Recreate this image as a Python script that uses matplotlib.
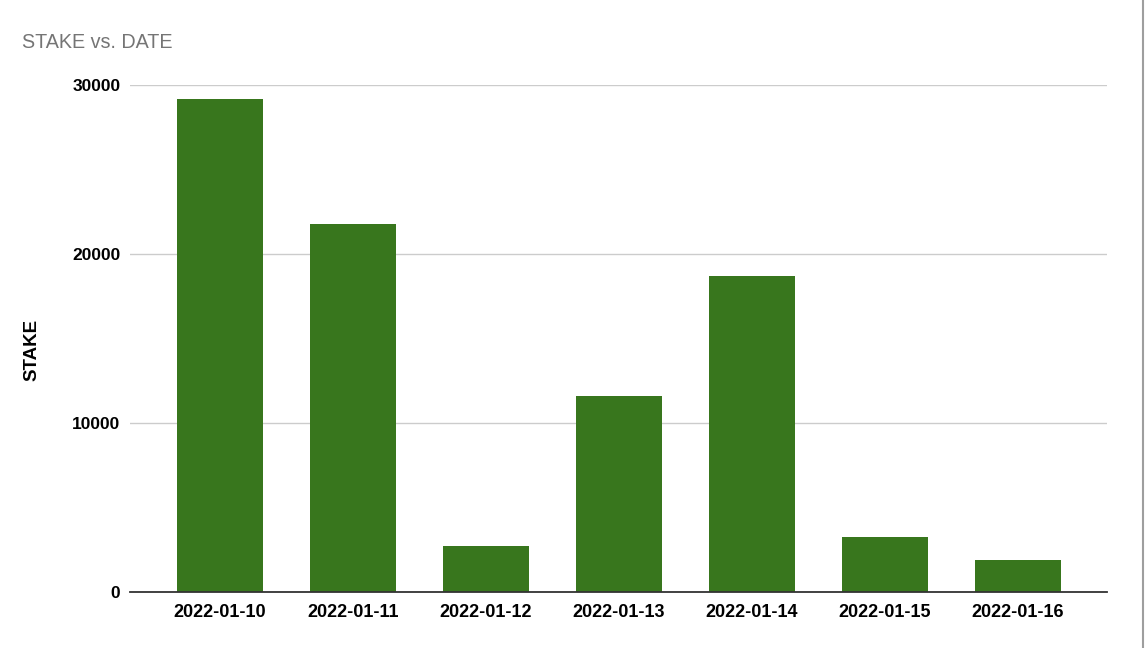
import matplotlib
matplotlib.use('Agg')
import matplotlib.pyplot as plt
from matplotlib.lines import Line2D

# data
dates = ['2022-01-10', '2022-01-11', '2022-01-12', '2022-01-13',
         '2022-01-14', '2022-01-15', '2022-01-16']
stake = [29200, 21800, 2700, 11600, 18700, 3250, 1900]
yticks = [0, 10000, 20000, 30000]

plt.rcParams['font.family'] = ['Liberation Sans', 'DejaVu Sans']

fig = plt.figure(figsize=(11.46, 6.48), dpi=100)
ax = fig.add_axes([130 / 1146, 1 - 592 / 648, (1107 - 130) / 1146, (592 - 85) / 648])

x = list(range(len(dates)))
ax.bar(x, stake, width=0.647, color='#38761d', zorder=3)

ax.set_xlim(-0.677, len(dates) - 1 + 0.673)
ax.set_ylim(0, 30000)
ax.set_yticks(yticks)
ax.set_yticklabels([str(v) for v in yticks], fontsize=12.5, fontweight='bold')
ax.set_xticks(x)
ax.set_xticklabels(dates, fontsize=13, fontweight='bold')
ax.tick_params(axis='y', length=0, pad=7)
ax.tick_params(axis='x', length=0, pad=8.5)

ax.grid(axis='y', color='#cccccc', linewidth=1, zorder=0)
for s in ['top', 'right', 'left']:
    ax.spines[s].set_visible(False)
ax.spines['bottom'].set_color('#333333')
ax.spines['bottom'].set_linewidth(1.3)
ax.spines['bottom'].set_zorder(4)

ax.set_ylabel('STAKE', fontsize=13.5, fontweight='bold')
ax.yaxis.set_label_coords(-0.092, 0.478)

fig.text(22 / 1146, 1 - 43 / 648, 'STAKE vs. DATE', fontsize=14.2,
         color='#757575', va='center', ha='left')

# screenshot border on the right
fig.add_artist(Line2D([1143 / 1146, 1143 / 1146], [0, 1],
                      transform=fig.transFigure, color='#9e9e9e', linewidth=1.5))

fig.savefig('out.png', dpi=100)
